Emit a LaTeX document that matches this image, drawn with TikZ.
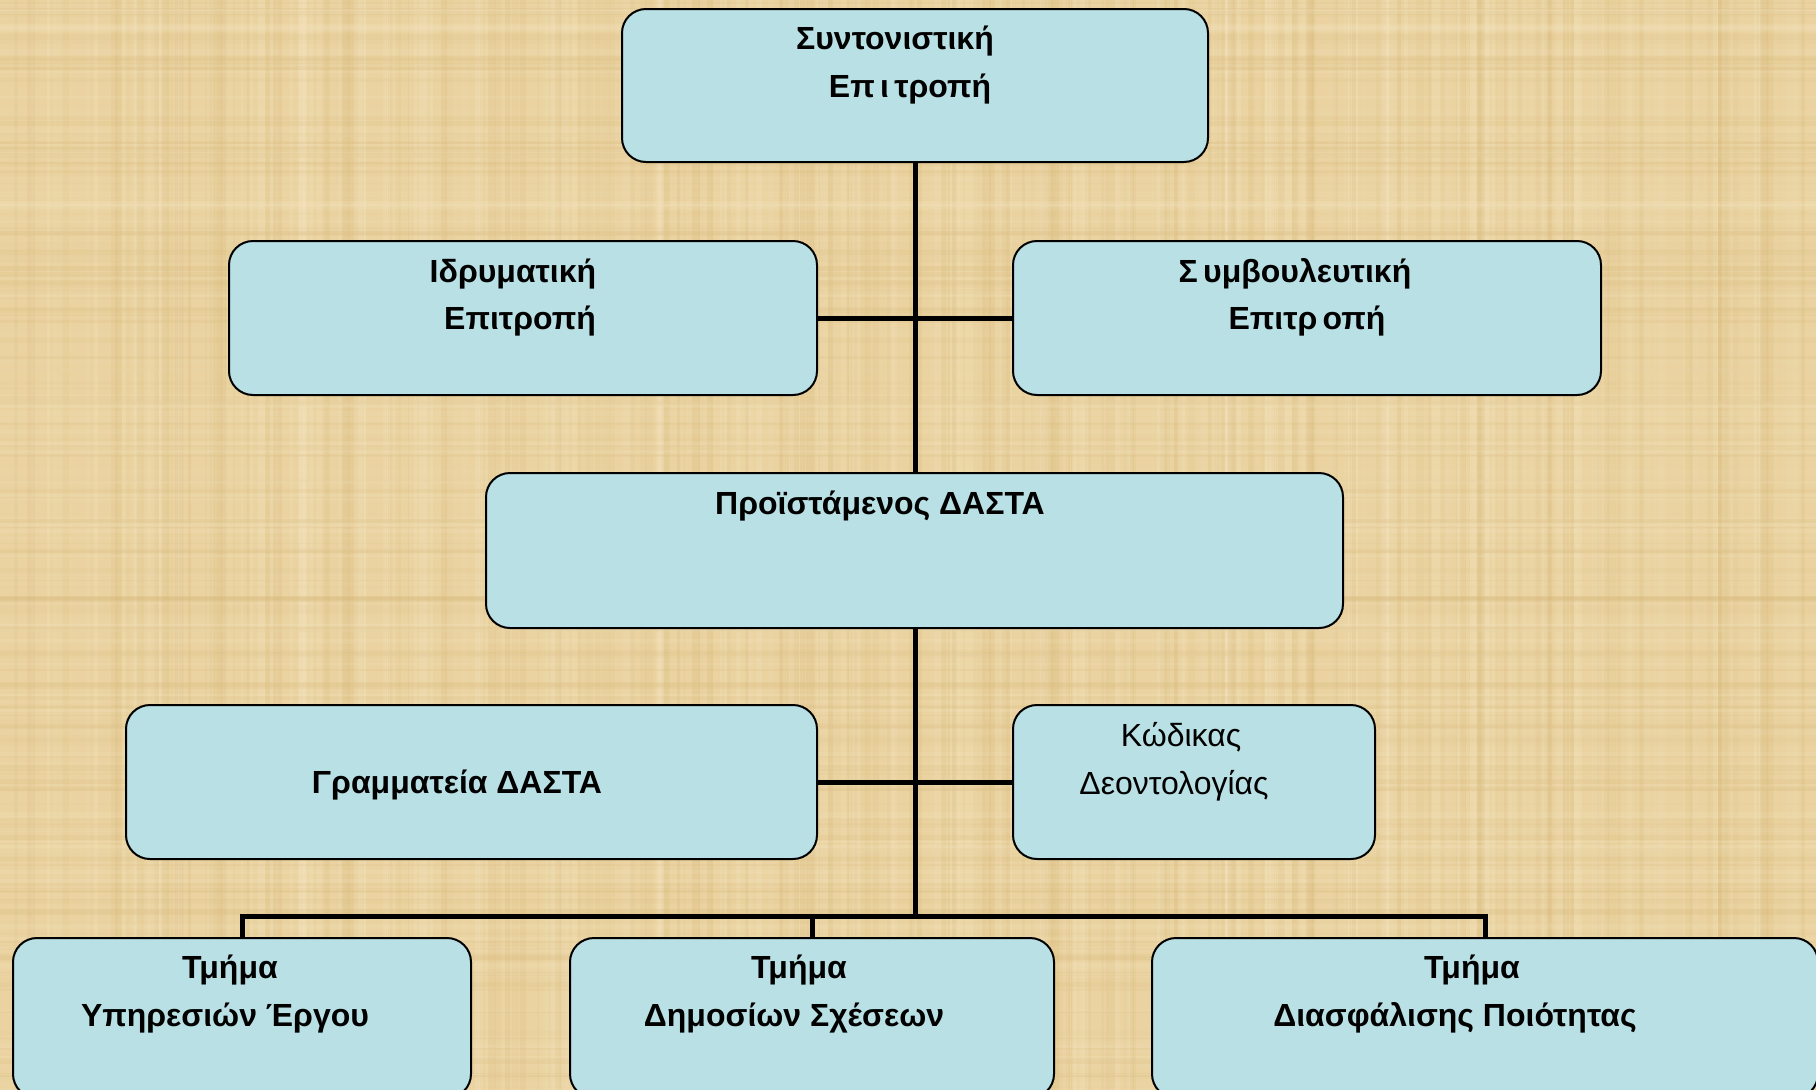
\documentclass[tikz,border=0pt]{standalone}
\usepackage{fontspec}
\setmainfont{Liberation Sans}
\usetikzlibrary{backgrounds}
\pgfdeclarelayer{paper}
\pgfsetlayers{paper,background,main}
\definecolor{papyrus}{HTML}{EAD3A1}
\definecolor{papdark}{HTML}{D6B675}
\definecolor{paplight}{HTML}{F7E8C6}
\definecolor{boxc}{HTML}{B9E0E4}
\tikzset{
  orgbox/.style={draw=black, fill=boxc, line width=2pt, rounded corners=24pt, inner sep=0pt},
  tb/.style={font=\fontsize{32}{36}\selectfont\bfseries, inner sep=0pt, anchor=base},
  tn/.style={font=\fontsize{32}{36}\selectfont, inner sep=0pt, anchor=base},
  conn/.style={line width=5pt, black}
}
\begin{document}
\begin{tikzpicture}[x=1pt,y=-1pt]
\useasboundingbox (0,0) rectangle (1816,1090);
\begin{pgfonlayer}{paper}
\fill[papyrus] (0,0) rectangle (1816,1090);
\pgfmathsetseed{7}
\foreach \i in {1,...,420} {
  \pgfmathsetmacro\xx{random(0,1816)}
  \pgfmathsetmacro\ww{random(1,8)}
  \pgfmathsetmacro\op{0.05+0.18*rnd}
  \pgfmathtruncatemacro\cc{random(0,1)}
  \ifnum\cc=0
    \fill[papdark, opacity=\op] (\xx,0) rectangle ++(\ww,1090);
  \else
    \fill[paplight, opacity=\op] (\xx,0) rectangle ++(\ww,1090);
  \fi
}
\foreach \i in {1,...,300} {
  \pgfmathsetmacro\yy{random(0,1090)}
  \pgfmathsetmacro\hh{random(1,6)}
  \pgfmathsetmacro\op{0.04+0.14*rnd}
  \pgfmathtruncatemacro\cc{random(0,1)}
  \ifnum\cc=0
    \fill[papdark, opacity=\op] (0,\yy) rectangle ++(1816,\hh);
  \else
    \fill[paplight, opacity=\op] (0,\yy) rectangle ++(1816,\hh);
  \fi
}
\end{pgfonlayer}

% boxes
\node[orgbox, minimum width=586pt, minimum height=153pt] (top) at (915,85.5) {};
\node[orgbox, minimum width=588pt, minimum height=154pt] (idr) at (523,318) {};
\node[orgbox, minimum width=588pt, minimum height=154pt] (sym) at (1307,318) {};
\node[orgbox, minimum width=857pt, minimum height=155pt] (pro) at (914.5,550.5) {};
\node[orgbox, minimum width=691pt, minimum height=154pt] (gra) at (471.5,782) {};
\node[orgbox, minimum width=362pt, minimum height=154pt] (kod) at (1194,782) {};
\node[orgbox, minimum width=458pt, minimum height=160pt] (b1) at (242,1018) {};
\node[orgbox, minimum width=484pt, minimum height=160pt] (b2) at (812,1018) {};
\node[orgbox, minimum width=666pt, minimum height=160pt] (b3) at (1485,1018) {};

% connectors
\coordinate (bus) at (915,916);
\begin{pgfonlayer}{background}
\draw[conn] (top.south) -- (bus);
\draw[conn] (idr.east) -- (sym.west);
\draw[conn] (gra.east) -- (kod.west);
\draw[conn] (b1.north) |- (bus) -| (b3.north);
\draw[conn] (bus -| b2.north) -- (b2.north);
\end{pgfonlayer}

% texts
\node[tb] (t1a) at (895,49) {Συντονιστική};
\node[tb] (t1b) at (910,97) {Επ\,ι\,τροπή};
\node[tb] (t2a) at (513,282) {Ιδρυματική};
\node[tb] (t2b) at (520,329) {Επιτροπή};
\node[tb] (t3a) at (1295,282) {Σ\,υμβουλευτική};
\node[tb] (t3b) at (1307,329) {Επιτρ\,οπή};
\node[tb] (t4) at (880,514) {Προϊστάμενος ΔΑΣΤΑ};
\node[tb] (t5) at (457,793) {Γραμματεία ΔΑΣΤΑ};
\node[tn] (t6a) at (1181,746) {Κώδικας};
\node[tn] (t6b) at (1174,794) {Δεοντολογίας};
\node[tb] (t7a) at (230,978) {Τμήμα};
\node[tb] (t7b) at (225,1026) {Υπηρεσιών Έργου};
\node[tb] (t8a) at (799,978) {Τμήμα};
\node[tb] (t8b) at (794,1026) {Δημοσίων Σχέσεων};
\node[tb] (t9a) at (1472,978) {Τμήμα};
\node[tb] (t9b) at (1455,1026) {Διασφάλισης Ποιότητας};
\end{tikzpicture}
\end{document}
